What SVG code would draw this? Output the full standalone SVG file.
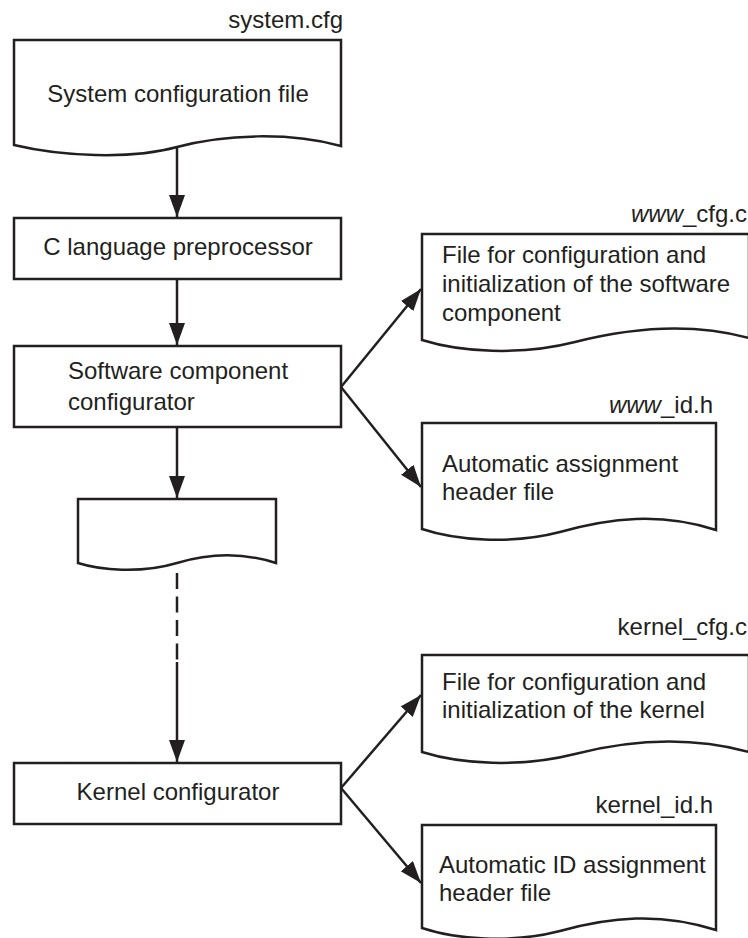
<svg xmlns="http://www.w3.org/2000/svg" width="748" height="938" viewBox="0 0 748 938">
<style>
  .shape { fill: #ffffff; stroke: #231f20; stroke-width: 2.5; stroke-linejoin: miter; }
  .conn { fill: none; stroke: #231f20; stroke-width: 2.5; }
  .dash { stroke-dasharray: 16 7.5; }
  text { font-family: "Liberation Sans", Arial, Helvetica, sans-serif; font-size: 24px; fill: #231f20; }
  .mid { text-anchor: middle; }
  .end { text-anchor: end; }
  .it { font-style: italic; }
</style>
<defs>
  <marker id="arrow" markerUnits="userSpaceOnUse" markerWidth="23" markerHeight="17" refX="22" refY="8" orient="auto">
    <path d="M0,0 L22,8 L0,16 Z" fill="#231f20"/>
  </marker>
</defs>
<rect width="748" height="938" fill="#ffffff"/>

<g id="connectors">
  <line class="conn" x1="177" y1="147" x2="177" y2="217" marker-end="url(#arrow)"/>
  <line class="conn" x1="177" y1="279" x2="177" y2="345" marker-end="url(#arrow)"/>
  <line class="conn" x1="341" y1="387" x2="421" y2="289" marker-end="url(#arrow)"/>
  <line class="conn" x1="341" y1="387" x2="421" y2="487" marker-end="url(#arrow)"/>
  <line class="conn" x1="177" y1="427" x2="177" y2="498" marker-end="url(#arrow)"/>
  <line class="conn dash" x1="177" y1="573" x2="177" y2="660"/>
  <line class="conn" x1="177" y1="662" x2="177" y2="762" marker-end="url(#arrow)"/>
  <line class="conn" x1="341" y1="788" x2="421" y2="695" marker-end="url(#arrow)"/>
  <line class="conn" x1="341" y1="788" x2="421" y2="883" marker-end="url(#arrow)"/>
</g>

<g id="system-cfg">
  <text class="end" x="343" y="28">system.cfg</text>
  <path class="shape" d="M14,145 L14,40 L341,40 L341,146 C290,132 225,134 177,147 C130,160 60,156 14,145 Z"/>
  <text class="mid" x="178" y="102">System configuration file</text>
</g>

<g id="c-preprocessor">
  <rect class="shape" x="14" y="218" width="327" height="61"/>
  <text class="mid" x="178" y="255">C language preprocessor</text>
</g>

<g id="sw-configurator">
  <rect class="shape" x="14" y="346" width="327" height="81"/>
  <text x="68" y="379">Software component</text>
  <text x="68" y="410">configurator</text>
</g>

<g id="www-cfg">
  <text class="end" x="747" y="222"><tspan class="it">www</tspan>_cfg.c</text>
  <path class="shape" d="M422,340 L422,234 L749,234 L749,338 C690,322 630,328 575,342 C520,356 460,352 422,340 Z"/>
  <text x="442" y="263">File for configuration and</text>
  <text x="442" y="292">initialization of the software</text>
  <text x="442" y="321">component</text>
</g>

<g id="www-id">
  <text class="end" x="713" y="413"><tspan class="it">www</tspan>_id.h</text>
  <path class="shape" d="M422,529 L422,423 L716,423 L716,530 C660,512 610,518 560,532 C510,545 455,540 422,529 Z"/>
  <text x="442" y="472">Automatic assignment</text>
  <text x="442" y="500">header file</text>
</g>

<g id="intermediate-file">
  <path class="shape" d="M78,563 L78,499 L276,499 L276,563 C245,553 210,553 177,563 C140,574 100,570 78,563 Z"/>
</g>

<g id="kernel-configurator">
  <rect class="shape" x="14" y="763" width="327" height="61"/>
  <text class="mid" x="178" y="800">Kernel configurator</text>
</g>

<g id="kernel-cfg">
  <text class="end" x="747" y="635">kernel_cfg.c</text>
  <path class="shape" d="M422,752 L422,655 L749,655 L749,752 C690,736 630,740 575,754 C520,768 460,764 422,752 Z"/>
  <text x="442" y="690">File for configuration and</text>
  <text x="442" y="718">initialization of the kernel</text>
</g>

<g id="kernel-id">
  <text class="end" x="713" y="813">kernel_id.h</text>
  <path class="shape" d="M422,928 L422,825 L716,825 L716,930 C660,912 610,917 560,931 C510,944 455,939 422,928 Z"/>
  <text x="439" y="873">Automatic ID assignment</text>
  <text x="439" y="901">header file</text>
</g>
</svg>
